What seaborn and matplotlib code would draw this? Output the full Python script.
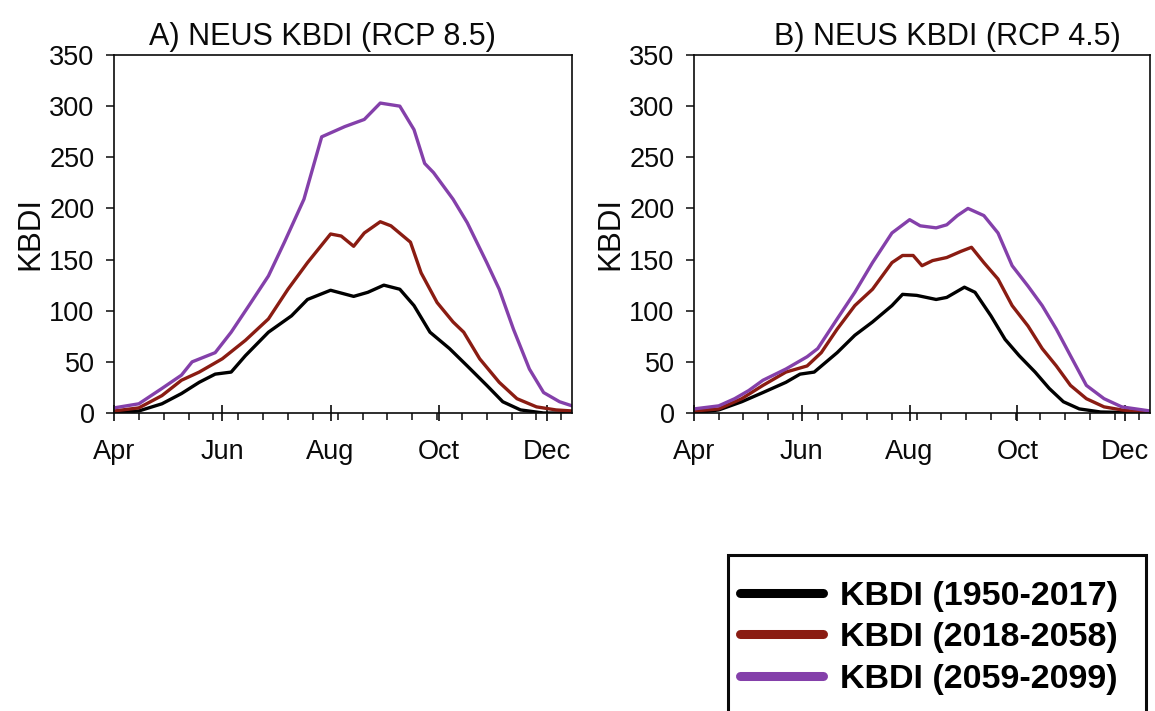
import matplotlib
matplotlib.use("Agg")
import matplotlib.pyplot as plt
from matplotlib.lines import Line2D
from matplotlib.patches import Rectangle
import seaborn as sns
import pandas as pd

# ---------------- data (day offset from 1 April) ----------------
periods = ["KBDI (1950-2017)", "KBDI (2018-2058)", "KBDI (2059-2099)"]
colors = ["#000000", "#8a1c12", "#8440aa"]

# Panel A: RCP 8.5
a_black_day = [0, 14, 27, 38, 48, 57, 66, 74, 87, 100, 109, 122, 135, 143, 152, 161, 169, 178, 189, 199, 210, 219, 229, 242, 258]
a_black_val = [0, 2, 9, 19, 30, 38, 40, 56, 79, 95, 111, 120, 114, 118, 125, 121, 105, 79, 63, 46, 27, 11, 3, 0, 0]

a_red_day = [0, 14, 27, 38, 48, 61, 74, 87, 98, 109, 122, 128, 135, 141, 150, 156, 167, 173, 182, 191, 197, 206, 217, 227, 238, 249, 258]
a_red_val = [2, 5, 17, 32, 40, 53, 71, 92, 121, 147, 175, 173, 163, 176, 187, 183, 167, 137, 108, 89, 79, 53, 30, 14, 6, 3, 2]

a_purple_day = [0, 14, 27, 38, 44, 57, 66, 76, 87, 96, 107, 117, 130, 141, 150, 161, 169, 175, 180, 191, 199, 210, 217, 225, 234, 242, 251, 258]
a_purple_val = [5, 9, 24, 37, 50, 59, 79, 105, 134, 167, 209, 270, 280, 287, 303, 300, 277, 244, 235, 209, 186, 147, 121, 82, 43, 20, 11, 7]

# Panel B: RCP 4.5
b_black_day = [0, 14, 27, 39, 52, 60, 68, 81, 91, 101, 112, 118, 126, 137, 143, 153, 159, 168, 176, 184, 193, 201, 209, 218, 230, 258]
b_black_val = [0, 3, 11, 20, 30, 38, 40, 59, 76, 89, 105, 116, 115, 111, 113, 123, 118, 95, 72, 56, 40, 24, 11, 4, 1, 0]

b_red_day = [0, 14, 27, 39, 52, 64, 72, 81, 91, 101, 112, 118, 124, 129, 135, 143, 151, 157, 164, 172, 180, 189, 197, 205, 213, 222, 232, 242, 258]
b_red_val = [2, 4, 14, 27, 40, 46, 59, 82, 105, 121, 147, 154, 154, 144, 149, 152, 158, 162, 147, 131, 105, 85, 63, 46, 27, 14, 6, 3, 0]

b_purple_day = [0, 14, 23, 31, 39, 52, 64, 70, 81, 91, 101, 112, 122, 128, 137, 143, 149, 155, 164, 172, 180, 189, 197, 205, 213, 222, 232, 242, 258]
b_purple_val = [4, 7, 14, 22, 32, 43, 55, 63, 92, 118, 147, 176, 189, 183, 181, 184, 193, 200, 193, 176, 144, 124, 105, 82, 56, 27, 14, 6, 2]

titles = ["A) NEUS KBDI (RCP 8.5)", "B) NEUS KBDI (RCP 4.5)"]
month_labels = ["Apr", "Jun", "Aug", "Oct", "Dec"]
month_days = [0, 61, 122, 183, 244]
y_ticks = [0, 50, 100, 150, 200, 250, 300, 350]


def make_df(series):
    frames = []
    for name, days, vals in series:
        frames.append(pd.DataFrame({"day": days, "KBDI": vals, "period": name}))
    return pd.concat(frames, ignore_index=True)


df_a = make_df([(periods[0], a_black_day, a_black_val),
                (periods[1], a_red_day, a_red_val),
                (periods[2], a_purple_day, a_purple_val)])
df_b = make_df([(periods[0], b_black_day, b_black_val),
                (periods[1], b_red_day, b_red_val),
                (periods[2], b_purple_day, b_purple_val)])

# ---------------- style ----------------
sns.set_theme(style="white")
plt.rcParams["font.family"] = ["Liberation Sans", "DejaVu Sans"]
plt.rcParams["text.color"] = "#000000"

fig = plt.figure(figsize=(11.55, 7.11), dpi=100)
W, H = 1155, 711
boxes = [(114, 572), (694, 1150)]
top_px, bot_px = 55, 413
title_x = [0.456, 0.555]
palette = dict(zip(periods, colors))
ink = "#0a0a0a"

for i, (df, (l, r)) in enumerate(zip([df_a, df_b], boxes)):
    ax = fig.add_axes([l / W, 1 - bot_px / H, (r - l) / W, (bot_px - top_px) / H])
    sns.lineplot(data=df, x="day", y="KBDI", hue="period", palette=palette,
                 estimator=None, sort=True, linewidth=2.4, legend=False, ax=ax)
    ax.set_xlim(0, 258)
    ax.set_ylim(0, 350)
    ax.set_yticks(y_ticks)
    ax.set_yticklabels([str(v) for v in y_ticks])
    ax.set_xticks(month_days)
    ax.set_xticklabels(month_labels)
    ax.set_xticks(list(range(0, 259, 14)), minor=True)
    ax.tick_params(axis="x", which="major", direction="inout", length=12, width=1.2,
                   pad=13, labelsize=19.5, colors=ink, bottom=True)
    ax.tick_params(axis="x", which="minor", direction="out", length=5, width=1.1,
                   color=ink, bottom=True)
    ax.tick_params(axis="y", which="major", direction="out", length=6, width=1.1,
                   pad=8, labelsize=19.5, colors=ink, left=True)
    ax.set_xlabel("")
    ax.set_ylabel("KBDI", fontsize=22.5, color=ink, labelpad=3)
    ax.set_title(titles[i], fontsize=22, color=ink, x=title_x[i], pad=7)
    for s in ax.spines.values():
        s.set_color(ink)
        s.set_linewidth(1.2)
        s.set_visible(True)

# ---------------- legend ----------------
handles = [Line2D([0], [0], color=c, linewidth=6.5, solid_capstyle="round") for c in colors]
leg_left, leg_right, leg_top = 728, 1146, 555
leg = fig.legend(handles, periods, loc="upper left",
                 bbox_to_anchor=(leg_left / W, 0, (leg_right - leg_left) / W, 1 - leg_top / H),
                 mode="expand", borderaxespad=0, frameon=False,
                 handlelength=2.45, handletextpad=0.5, borderpad=0.35, labelspacing=0.3,
                 title=" ", title_fontsize=2,
                 prop={"family": "Liberation Sans", "weight": "bold", "size": 24.5})
for t in leg.get_texts():
    t.set_color("#000000")

# legend frame running past the bottom edge, as in the reference
fig.patches.append(Rectangle((leg_left / W, -0.05), (leg_right - leg_left) / W,
                             (1 - leg_top / H) + 0.05, transform=fig.transFigure,
                             fill=False, edgecolor=ink, linewidth=2.2, zorder=5))

fig.savefig("out.png", dpi=100)
